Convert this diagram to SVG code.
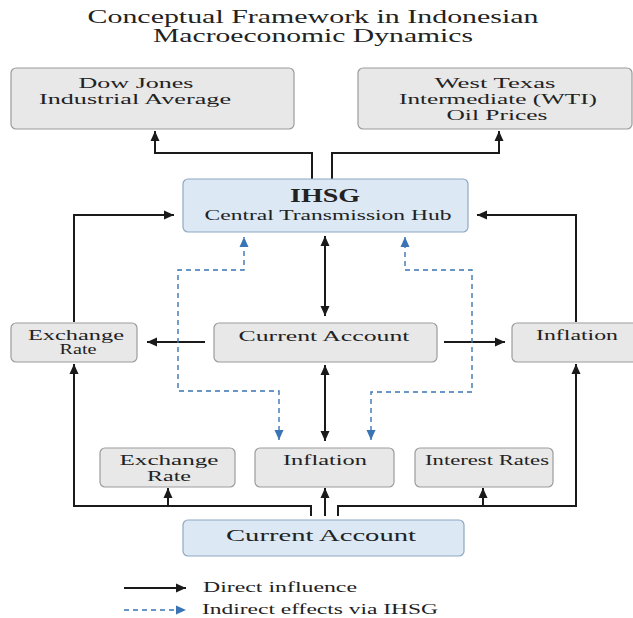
<svg xmlns="http://www.w3.org/2000/svg" width="633" height="618" viewBox="0 0 633 618">
<defs>
<marker id="ab" markerUnits="userSpaceOnUse" markerWidth="11" markerHeight="10" refX="10" refY="5" orient="auto-start-reverse"><path d="M0,0.5 L10,5 L0,9.5 z" fill="#1a1a1a"/></marker>
<marker id="au" markerUnits="userSpaceOnUse" markerWidth="11" markerHeight="10" refX="10" refY="5" orient="auto-start-reverse"><path d="M0,0.5 L10,5 L0,9.5 z" fill="#3a74b4"/></marker>
</defs>
<style>
text{font-family:"Liberation Serif","Times New Roman",serif;fill:#222;text-anchor:middle}
.t{font-size:18px}
.n{font-size:14px}
.m{font-size:15px}
.b{font-size:18px;font-weight:bold}
.g{fill:#e8e8e8;stroke:#9c9c9c;stroke-width:1.2}
.bl{fill:#dce9f5;stroke:#8ea8c2;stroke-width:1.2}
.c{fill:none;stroke:#1a1a1a;stroke-width:2}
.d{fill:none;stroke:#3a74b4;stroke-width:1.4;stroke-dasharray:5,4}
.l{text-anchor:start}
</style>
<rect width="633" height="618" fill="#ffffff"/>
<g id="title">
<text class="t" x="313" y="23" textLength="451" lengthAdjust="spacingAndGlyphs">Conceptual Framework in Indonesian</text>
<text class="t" x="313" y="42" textLength="320" lengthAdjust="spacingAndGlyphs">Macroeconomic Dynamics</text>
</g>
<g id="connectors">
<path class="c" d="M312,180 V153 H155 V131" marker-end="url(#ab)"/>
<path class="c" d="M332,180 V153 H499 V131" marker-end="url(#ab)"/>
<path class="c" d="M74,322 V215 H174" marker-end="url(#ab)"/>
<path class="c" d="M576,322 V215 H477" marker-end="url(#ab)"/>
<path class="c" d="M325,236 V316" marker-start="url(#ab)" marker-end="url(#ab)"/>
<path class="c" d="M205,342 H147" marker-end="url(#ab)"/>
<path class="c" d="M444,342 H505" marker-end="url(#ab)"/>
<path class="c" d="M325,365 V441" marker-start="url(#ab)" marker-end="url(#ab)"/>
<path class="c" d="M311,516 V506 H74 V364" marker-end="url(#ab)"/>
<path class="c" d="M168,506 V488" marker-end="url(#ab)"/>
<path class="c" d="M325,516 V488" marker-end="url(#ab)"/>
<path class="c" d="M338,516 V506 H576 V364" marker-end="url(#ab)"/>
<path class="c" d="M483,506 V488" marker-end="url(#ab)"/>
<path class="d" d="M279,440 V391 H178 V270 H244 V237" marker-start="url(#au)" marker-end="url(#au)"/>
<path class="d" d="M371,440 V392 H472 V270 H405 V237" marker-start="url(#au)" marker-end="url(#au)"/>
</g>
<g id="dow">
<rect class="g" x="11" y="68" width="283" height="61" rx="5"/>
<text class="n" x="136" y="88" textLength="115" lengthAdjust="spacingAndGlyphs">Dow Jones</text>
<text class="n" x="135" y="104" textLength="192" lengthAdjust="spacingAndGlyphs">Industrial Average</text>
</g>
<g id="wti">
<rect class="g" x="358" y="68" width="274" height="61" rx="5"/>
<text class="n" x="495" y="88" textLength="121" lengthAdjust="spacingAndGlyphs">West Texas</text>
<text class="n" x="498" y="104" textLength="198" lengthAdjust="spacingAndGlyphs">Intermediate (WTI)</text>
<text class="n" x="497" y="120" textLength="101" lengthAdjust="spacingAndGlyphs">Oil Prices</text>
</g>
<g id="ihsg">
<rect class="bl" x="183" y="179" width="285" height="53" rx="5"/>
<text class="b" x="325" y="202" textLength="70" lengthAdjust="spacingAndGlyphs">IHSG</text>
<text class="m" x="328" y="220" textLength="247" lengthAdjust="spacingAndGlyphs">Central Transmission Hub</text>
</g>
<g id="exchange-rate-1">
<rect class="g" x="11" y="323" width="126" height="39" rx="5"/>
<text class="n" x="76" y="340" textLength="96" lengthAdjust="spacingAndGlyphs">Exchange</text>
<text class="n" x="78" y="354" textLength="37" lengthAdjust="spacingAndGlyphs">Rate</text>
</g>
<g id="current-account-1">
<rect class="g" x="214" y="323" width="223" height="39" rx="5"/>
<text class="m" x="324" y="341" textLength="171" lengthAdjust="spacingAndGlyphs">Current Account</text>
</g>
<g id="inflation-1">
<rect class="g" x="512" y="323" width="130" height="39" rx="5"/>
<text class="m" x="577" y="340" textLength="82" lengthAdjust="spacingAndGlyphs">Inflation</text>
</g>
<g id="exchange-rate-2">
<rect class="g" x="100" y="448" width="135" height="39" rx="5"/>
<text class="n" x="169" y="465" textLength="99" lengthAdjust="spacingAndGlyphs">Exchange</text>
<text class="n" x="169" y="481" textLength="44" lengthAdjust="spacingAndGlyphs">Rate</text>
</g>
<g id="inflation-2">
<rect class="g" x="255" y="448" width="139" height="39" rx="5"/>
<text class="m" x="325" y="465" textLength="84" lengthAdjust="spacingAndGlyphs">Inflation</text>
</g>
<g id="interest-rates">
<rect class="g" x="415" y="448" width="138" height="39" rx="5"/>
<text class="n" x="487" y="465" textLength="124" lengthAdjust="spacingAndGlyphs">Interest Rates</text>
</g>
<g id="current-account-2">
<rect class="bl" x="183" y="520" width="281" height="36" rx="5"/>
<text class="m" x="321" y="541" style="font-size:16px" textLength="190" lengthAdjust="spacingAndGlyphs">Current Account</text>
</g>
<g id="legend">
<path class="c" d="M124,588 H186" marker-end="url(#ab)"/>
<path class="d" d="M124,610 H186" marker-end="url(#au)"/>
<text class="n l" x="203" y="592" textLength="154" lengthAdjust="spacingAndGlyphs">Direct influence</text>
<text class="n l" x="202" y="614" textLength="236" lengthAdjust="spacingAndGlyphs">Indirect effects via IHSG</text>
</g>
</svg>
